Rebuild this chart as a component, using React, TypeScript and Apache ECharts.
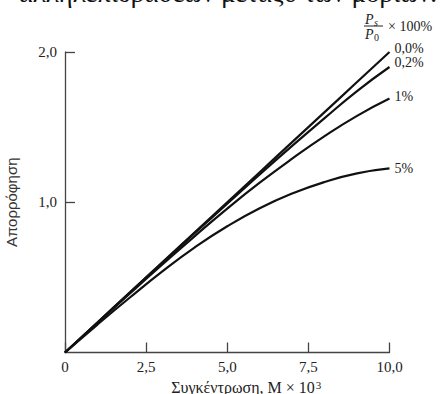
import React, { useEffect, useRef } from "react";
import * as echarts from "echarts";

const concentration = [0, 1, 2, 3, 4, 5, 6, 7, 8, 9, 10];
const stray00 = [0, 0.2, 0.4, 0.6, 0.8, 1.0, 1.2, 1.4, 1.6, 1.8, 2.0];
const stray02 = [0, 0.2, 0.399, 0.597, 0.795, 0.99, 1.185, 1.375, 1.56, 1.74, 1.9];
const stray1 = [0, 0.197, 0.393, 0.586, 0.775, 0.958, 1.13, 1.29, 1.44, 1.575, 1.69];
const stray5 = [0, 0.186, 0.366, 0.54, 0.7, 0.84, 0.96, 1.058, 1.135, 1.192, 1.225];
const seriesNames = ["0,0%", "0,2%", "1%", "5%"];
const labelOffsets = [[-3, -4], [-3, -4.5], [-3, -2], [-3, 0]];
const xTicks = [0, 2.5, 5, 7.5, 10];
const yTicks = [0, 1, 2];

const SERIF = "Liberation Serif";

export default function App() {
  const ref = useRef<HTMLDivElement>(null);
  useEffect(() => {
    if (!ref.current) return;
    const chart = echarts.init(ref.current, undefined, { renderer: "svg" });
    const all = [stray00, stray02, stray1, stray5];
    const fmt = (v: number) => (v === 0 ? "0" : v.toFixed(1).replace(".", ","));
    const txt = (text: string, left: number, top: number, size: number, italic = false) => ({
      type: "text",
      left,
      top,
      style: { text, fontFamily: SERIF, fontSize: size, fontStyle: italic ? "italic" : "normal", fill: "#222" },
    });
    chart.setOption({
      animation: false,
      backgroundColor: "#ffffff",
      grid: { left: 65, right: 51.5, top: 52, bottom: 41.5, containLabel: false, outerBoundsMode: "none" },
      xAxis: {
        type: "value",
        min: xTicks[0],
        max: xTicks[xTicks.length - 1],
        interval: 2.5,
        splitLine: { show: false },
        axisLine: { show: true, lineStyle: { color: "#444", width: 1.3 } },
        axisTick: { show: true, inside: true, length: 10, lineStyle: { color: "#444", width: 1.3 } },
        axisLabel: { formatter: fmt, color: "#222", fontFamily: SERIF, fontSize: 15, margin: 7 },
        name: "{n|Συγκέντρωση, M × 10}{sup|3}",
        nameLocation: "middle",
        nameGap: 24,
        nameTextStyle: {
          padding: [0, 0, 0, 38],
          rich: {
            n: { fontFamily: SERIF, fontSize: 16, color: "#222", lineHeight: 17 },
            sup: { fontFamily: SERIF, fontSize: 11, color: "#222", verticalAlign: "top", lineHeight: 17, padding: [0, 0, 10, 1] },
          },
        },
      },
      yAxis: {
        type: "value",
        min: yTicks[0],
        max: yTicks[yTicks.length - 1],
        interval: 1,
        splitLine: { show: false },
        axisLine: { show: true, lineStyle: { color: "#444", width: 1.3 } },
        axisTick: { show: true, inside: true, length: 10, lineStyle: { color: "#444", width: 1.3 } },
        axisLabel: { formatter: fmt, showMinLabel: false, color: "#222", fontFamily: SERIF, fontSize: 15, margin: 8 },
        name: "Απορρόφηση",
        nameLocation: "middle",
        nameGap: 46,
        nameRotate: 90,
        nameTextStyle: { fontFamily: "Liberation Sans Narrow, Liberation Sans, sans-serif", fontSize: 15, color: "#333" },
      },
      series: all.map((vals, i) => ({
        type: "line",
        name: seriesNames[i],
        data: concentration.map((c, j) => [c, vals[j]]),
        smooth: true,
        showSymbol: false,
        lineStyle: { color: "#111", width: 2.2 },
        endLabel: {
          show: true,
          formatter: seriesNames[i],
          fontFamily: SERIF,
          fontSize: 14,
          lineHeight: 12,
          color: "#222",
          offset: labelOffsets[i],
        },
      })),
      graphic: [
        {
          type: "text",
          right: 4,
          top: -21,
          style: { text: "αλληλεπιδράσεων μεταξύ των μορίων.", fontFamily: SERIF, fontSize: 27, fill: "#111" },
        },
        txt("P", 365, 12, 14, true),
        txt("s", 374, 17, 10, true),
        {
          type: "line",
          shape: { x1: 364, y1: 26, x2: 383, y2: 26 },
          style: { stroke: "#222", lineWidth: 1 },
        },
        txt("P", 365, 27, 14, true),
        txt("0", 374, 32, 10),
        txt("× 100%", 388, 19, 14),
      ],
    });
    return () => chart.dispose();
  }, []);
  return <div ref={ref} style={{ width: 441, height: 394, position: "absolute", left: 0, top: 0 }} />;
}
